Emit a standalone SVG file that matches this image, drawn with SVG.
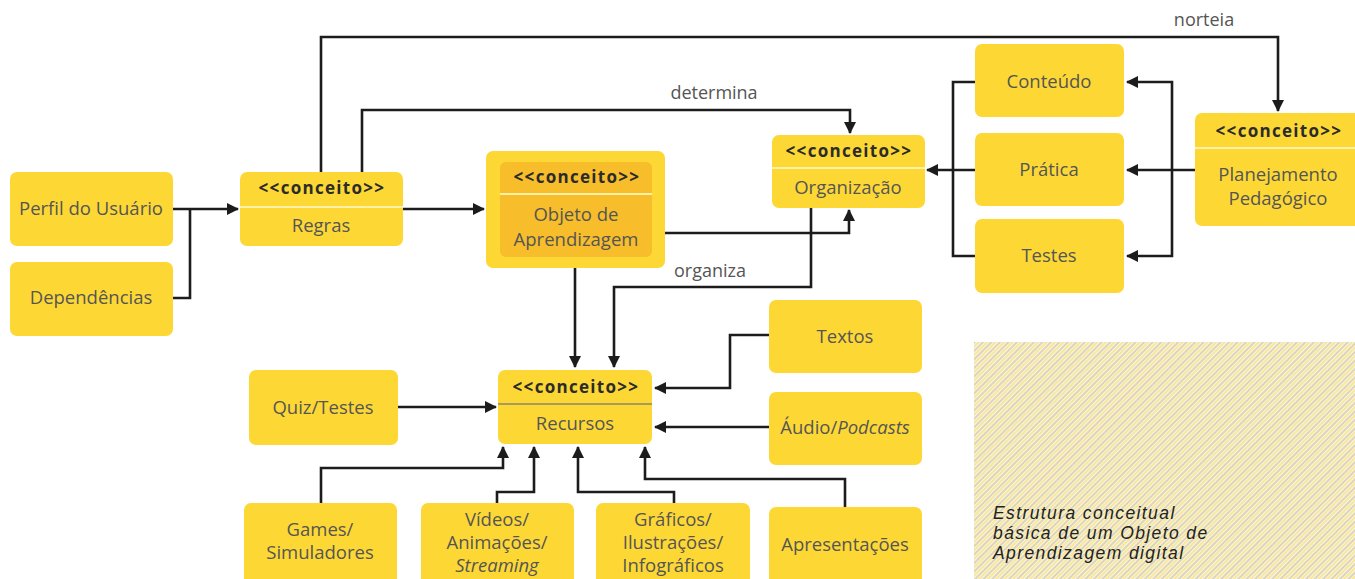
<svg xmlns="http://www.w3.org/2000/svg" width="1355" height="579" viewBox="0 0 1355 579">
<style>
.box{fill:#FDD835}
.inner{fill:#F7BD2B}
.div{stroke:#FFF2A8;stroke-width:2}
.t{font-family:"Open Sans","Liberation Sans",sans-serif;font-size:18.5px;fill:#555;text-anchor:middle}
.it{font-style:italic}
.k{font-family:"Open Sans","Liberation Sans",sans-serif;font-size:17px;font-weight:bold;fill:#2b2b2b;text-anchor:middle;letter-spacing:1.3px}
.lbl{font-family:"Open Sans","Liberation Sans",sans-serif;font-size:18px;fill:#555;text-anchor:middle}
.c{fill:none;stroke:#1c1c1c;stroke-width:2.6}
.cap{font-family:"Liberation Sans","Open Sans",sans-serif;font-size:17.5px;font-style:italic;fill:#222;letter-spacing:1.4px}
</style>
<defs>
<marker id="a" markerUnits="userSpaceOnUse" markerWidth="14" markerHeight="14" refX="11" refY="6" orient="auto">
<path d="M0,0 L12,6 L0,12 z" fill="#1c1c1c"/>
</marker>
<pattern id="hatch" patternUnits="userSpaceOnUse" width="6" height="6" patternTransform="rotate(45)">
<rect width="6" height="6" fill="#F8F4E6"/>
<rect x="0" width="2" height="6" fill="#DED5B6"/>
<rect x="3.2" width="1.4" height="6" fill="#F8E27A"/>
</pattern>
</defs>
<rect width="1355" height="579" fill="#fff"/>

<rect x="974" y="342" width="381" height="237" fill="url(#hatch)"/>
<text class="cap"><tspan x="993" y="519">Estrutura conceitual</tspan><tspan x="993" y="539">básica de um Objeto de</tspan><tspan x="993" y="559">Aprendizagem digital</tspan></text>

<g id="connectors">
<path class="c" d="M173,209 H238" marker-end="url(#a)"/>
<path class="c" d="M173,298 H190 V209"/>
<path class="c" d="M403,209 H484" marker-end="url(#a)"/>
<path class="c" d="M321,172 V37 H1278 V111" marker-end="url(#a)"/>
<path class="c" d="M362,172 V110 H850 V133" marker-end="url(#a)"/>
<path class="c" d="M652,233 H849 V210" marker-end="url(#a)"/>
<path class="c" d="M575,257 V367" marker-end="url(#a)"/>
<path class="c" d="M811,208 V287 H614 V367" marker-end="url(#a)"/>
<path class="c" d="M975,82 H953 V256 H975"/>
<path class="c" d="M975,170 H927" marker-end="url(#a)"/>
<path class="c" d="M1195,170 H1127" marker-end="url(#a)"/>
<path class="c" d="M1172,170 V82 H1127" marker-end="url(#a)"/>
<path class="c" d="M1172,170 V256 H1127" marker-end="url(#a)"/>
<path class="c" d="M398,407 H496" marker-end="url(#a)"/>
<path class="c" d="M769,335 H730 V388 H655" marker-end="url(#a)"/>
<path class="c" d="M769,427 H655" marker-end="url(#a)"/>
<path class="c" d="M321,503 V468 H503 V447" marker-end="url(#a)"/>
<path class="c" d="M497,503 V492 H534 V447" marker-end="url(#a)"/>
<path class="c" d="M674,503 V492 H578 V447" marker-end="url(#a)"/>
<path class="c" d="M845,507 V479 H645 V447" marker-end="url(#a)"/>
<text class="lbl" x="1204" y="26">norteia</text>
<text class="lbl" x="714" y="99">determina</text>
<text class="lbl" x="710" y="277">organiza</text>
</g>

<g id="perfil">
<rect class="box" x="10" y="172" width="163" height="74" rx="7"/>
<text class="t" x="91" y="215">Perfil do Usuário</text>
</g>
<g id="dependencias">
<rect class="box" x="10" y="262" width="163" height="74" rx="7"/>
<text class="t" x="91" y="304">Dependências</text>
</g>
<g id="regras">
<rect class="box" x="240" y="172" width="163" height="74" rx="7"/>
<line class="div" x1="240" y1="207" x2="403" y2="207"/>
<text class="k" x="322" y="194">&lt;&lt;conceito&gt;&gt;</text>
<text class="t" x="321" y="232">Regras</text>
</g>
<g id="objeto">
<rect class="box" x="486" y="151" width="179" height="117" rx="7"/>
<rect class="inner" x="500" y="162" width="152" height="95" rx="6"/>
<line class="div" x1="500" y1="194" x2="652" y2="194"/>
<text class="k" x="577" y="183">&lt;&lt;conceito&gt;&gt;</text>
<text class="t" x="576" y="221">Objeto de</text>
<text class="t" x="576" y="246">Aprendizagem</text>
</g>
<g id="organizacao">
<rect class="box" x="772" y="135" width="153" height="73" rx="7"/>
<line class="div" x1="772" y1="168" x2="925" y2="168"/>
<text class="k" x="849" y="157">&lt;&lt;conceito&gt;&gt;</text>
<text class="t" x="848" y="194">Organização</text>
</g>
<g id="conteudo">
<rect class="box" x="975" y="44" width="149" height="73" rx="7"/>
<text class="t" x="1049" y="88">Conteúdo</text>
</g>
<g id="pratica">
<rect class="box" x="975" y="133" width="149" height="73" rx="7"/>
<text class="t" x="1049" y="176">Prática</text>
</g>
<g id="testes">
<rect class="box" x="975" y="219" width="149" height="74" rx="7"/>
<text class="t" x="1049" y="262">Testes</text>
</g>
<g id="planejamento">
<rect class="box" x="1195" y="113" width="175" height="113" rx="7"/>
<line class="div" x1="1195" y1="148" x2="1355" y2="148"/>
<text class="k" x="1279" y="137">&lt;&lt;conceito&gt;&gt;</text>
<text class="t" x="1278" y="181">Planejamento</text>
<text class="t" x="1278" y="205">Pedagógico</text>
</g>
<g id="quiz">
<rect class="box" x="249" y="370" width="149" height="75" rx="7"/>
<text class="t" x="323" y="414">Quiz/Testes</text>
</g>
<g id="recursos">
<rect class="box" x="498" y="370" width="154" height="74" rx="7"/>
<line x1="498" y1="404" x2="652" y2="404" stroke="#A89A5E" stroke-width="2"/>
<text class="k" x="576" y="393">&lt;&lt;conceito&gt;&gt;</text>
<text class="t" x="575" y="430">Recursos</text>
</g>
<g id="textos">
<rect class="box" x="769" y="300" width="153" height="73" rx="7"/>
<text class="t" x="845" y="343">Textos</text>
</g>
<g id="audio">
<rect class="box" x="769" y="392" width="153" height="73" rx="7"/>
<text class="t" x="845" y="434">Áudio/<tspan class="it">Podcasts</tspan></text>
</g>
<g id="games">
<rect class="box" x="244" y="503" width="153" height="90" rx="7"/>
<text class="t" x="320" y="536">Games/</text>
<text class="t" x="320" y="559">Simuladores</text>
</g>
<g id="videos">
<rect class="box" x="421" y="503" width="153" height="90" rx="7"/>
<text class="t" x="497" y="526">Vídeos/</text>
<text class="t" x="497" y="549">Animações/</text>
<text class="t it" x="497" y="572">Streaming</text>
</g>
<g id="graficos">
<rect class="box" x="596" y="503" width="154" height="90" rx="7"/>
<text class="t" x="673" y="526">Gráficos/</text>
<text class="t" x="673" y="549">Ilustrações/</text>
<text class="t" x="673" y="572">Infográficos</text>
</g>
<g id="apresentacoes">
<rect class="box" x="769" y="507" width="153" height="90" rx="7"/>
<text class="t" x="845" y="551">Apresentações</text>
</g>
</svg>
